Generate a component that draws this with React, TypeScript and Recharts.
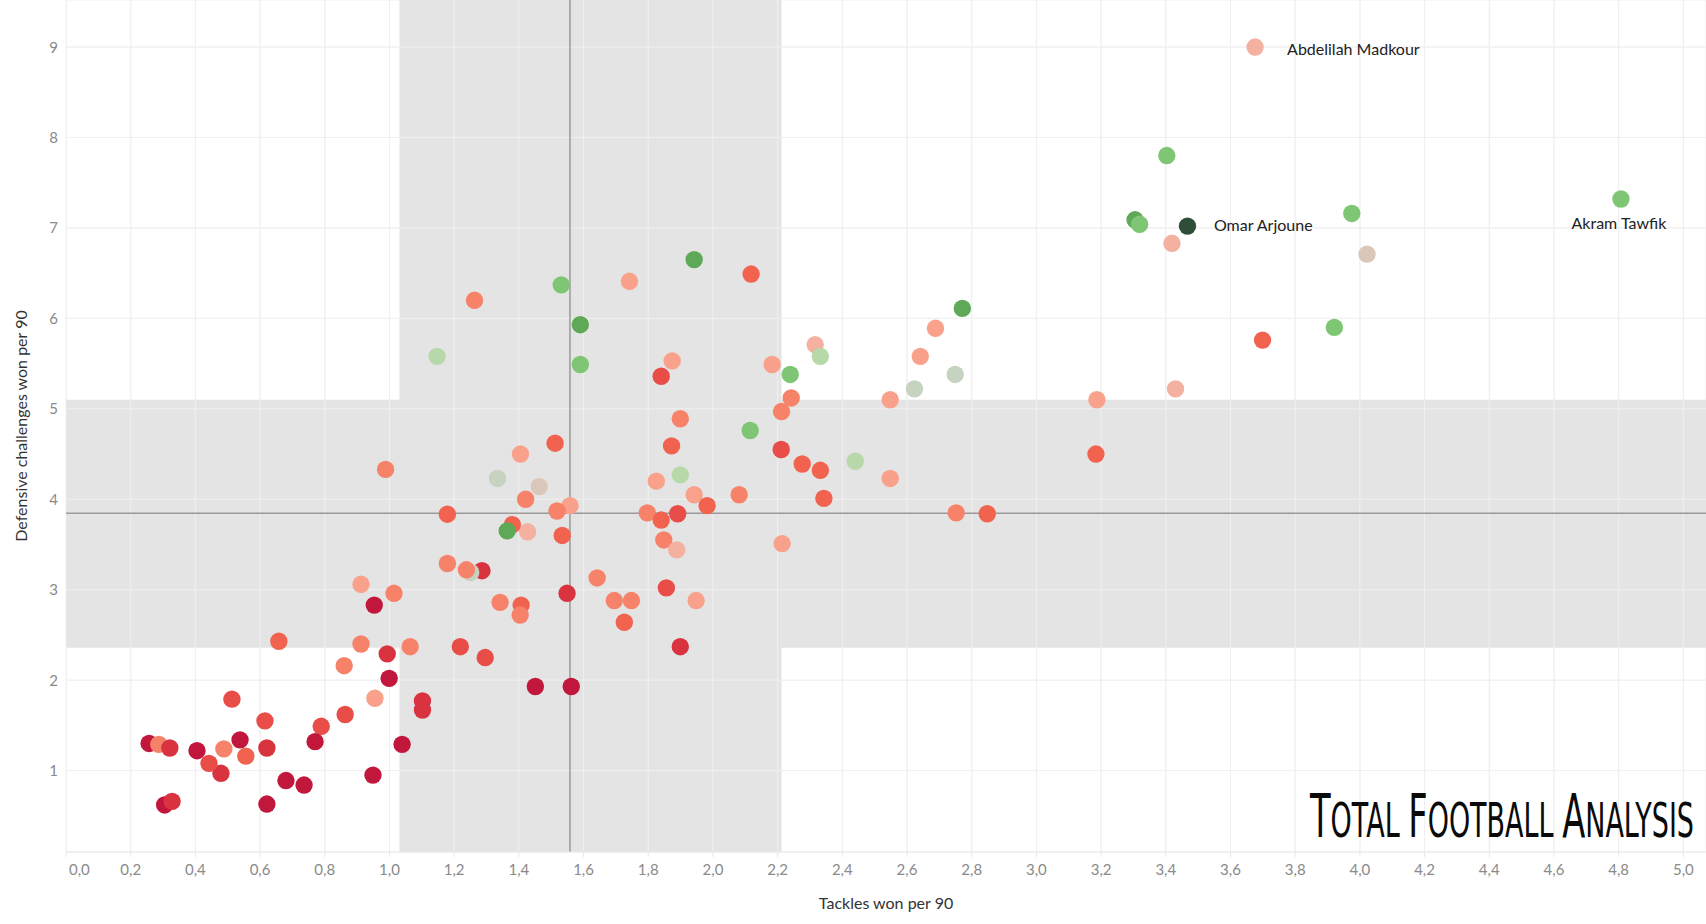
import React from "react";
import {
  ScatterChart,
  Scatter,
  XAxis,
  YAxis,
  CartesianGrid,
  ReferenceArea,
  ReferenceLine,
} from "recharts";

// ---- data ----
const tackles = [
  3.676, 3.403, 3.305, 3.319, 3.467, 3.419, 3.975, 4.022, 4.807, 3.921,
  3.699, 3.187, 3.43, 3.184, 2.848, 2.752, 2.771, 2.688, 2.641, 2.623,
  2.749, 2.548, 2.548, 2.44, 2.316, 2.332, 2.239, 2.183, 2.242, 2.212,
  2.115, 2.211, 2.276, 2.332, 2.343, 2.214, 2.118, 1.942, 1.742, 1.531,
  1.59, 1.59, 1.874, 1.84, 1.899, 1.872, 1.825, 1.899, 1.942, 1.982,
  2.081, 1.797, 1.84, 1.891, 1.848, 1.888, 1.558, 1.518, 1.534, 1.512,
  1.405, 1.421, 1.463, 1.427, 1.38, 1.364, 1.334, 1.179, 0.988, 1.147,
  1.263, 1.642, 1.549, 1.695, 1.748, 1.856, 1.948, 1.726, 1.899, 1.562,
  1.451, 1.179, 1.286, 1.251, 1.238, 1.342, 1.407, 1.404, 1.219, 1.296,
  1.064, 0.993, 0.999, 0.912, 0.86, 0.955, 0.912, 1.014, 0.953, 0.658,
  1.102, 1.102, 1.039, 0.949, 0.863, 0.789, 0.77, 0.736, 0.68, 0.621,
  0.621, 0.615, 0.556, 0.538, 0.488, 0.513, 0.479, 0.442, 0.405, 0.257,
  0.287, 0.321, 0.305, 0.328,
];

const challenges = [
  9.0, 7.8, 7.09, 7.04, 7.02, 6.83, 7.16, 6.71, 7.32, 5.9,
  5.76, 5.1, 5.22, 4.5, 3.84, 3.85, 6.11, 5.89, 5.58, 5.22,
  5.38, 5.1, 4.23, 4.42, 5.71, 5.58, 5.38, 5.49, 5.12, 4.97,
  4.76, 4.55, 4.39, 4.32, 4.01, 3.51, 6.49, 6.65, 6.41, 6.37,
  5.93, 5.49, 5.53, 5.36, 4.89, 4.59, 4.2, 4.27, 4.05, 3.93,
  4.05, 3.85, 3.77, 3.84, 3.55, 3.44, 3.93, 3.87, 3.6, 4.62,
  4.5, 4.0, 4.14, 3.64, 3.72, 3.65, 4.23, 3.835, 4.33, 5.58,
  6.2, 3.13, 2.96, 2.88, 2.88, 3.02, 2.88, 2.64, 2.37, 1.93,
  1.93, 3.29, 3.21, 3.19, 3.22, 2.86, 2.83, 2.72, 2.37, 2.25,
  2.37, 2.29, 2.02, 2.4, 2.16, 1.8, 3.06, 2.96, 2.83, 2.43,
  1.77, 1.67, 1.29, 0.95, 1.62, 1.49, 1.32, 0.84, 0.89, 0.63,
  1.25, 1.55, 1.16, 1.34, 1.24, 1.79, 0.97, 1.08, 1.22, 1.3,
  1.29, 1.25, 0.62, 0.66,
];

const tones = [
  "P", "G", "D", "G", "K", "P", "G", "B", "G", "G",
  "O", "L", "P", "O", "O", "S", "D", "L", "L", "Q",
  "Q", "L", "L", "M", "P", "M", "G", "L", "S", "S",
  "G", "T", "O", "O", "O", "L", "O", "D", "L", "G",
  "D", "G", "L", "T", "S", "O", "L", "M", "L", "O",
  "S", "S", "O", "T", "S", "P", "L", "S", "O", "O",
  "L", "S", "B", "P", "O", "D", "Q", "O", "S", "M",
  "S", "S", "R", "S", "S", "T", "L", "O", "R", "C",
  "C", "S", "R", "Q", "S", "S", "O", "S", "T", "T",
  "S", "R", "C", "S", "S", "L", "L", "S", "C", "O",
  "R", "R", "C", "C", "T", "T", "C", "C", "C", "C",
  "R", "T", "O", "C", "S", "T", "R", "T", "C", "C",
  "S", "R", "C", "R",
];

const labelledPlayers: Record<number, string> = {
  0: "Abdelilah Madkour",
  4: "Omar Arjoune",
  8: "Akram Tawfik",
};

const xTicks = [
  0, 0.2, 0.4, 0.6, 0.8, 1.0, 1.2, 1.4, 1.6, 1.8, 2.0, 2.2, 2.4, 2.6, 2.8,
  3.0, 3.2, 3.4, 3.6, 3.8, 4.0, 4.2, 4.4, 4.6, 4.8, 5.0,
];
const yTicks = [1, 2, 3, 4, 5, 6, 7, 8, 9];

// band limits and averages
const tackleBand = [1.031, 2.212];
const challengeBand = [2.357, 5.099];
const tackleAvg = 1.558;
const challengeAvg = 3.845;

// ---- styling ----
const palette: Record<string, string> = {
  C: "#c1173c",
  R: "#da3340",
  T: "#e84d47",
  O: "#f1634f",
  S: "#f7826a",
  L: "#f9a18b",
  P: "#f4b0a0",
  B: "#dac7b9",
  Q: "#c6d3c0",
  M: "#b7d9aa",
  G: "#7fc674",
  D: "#5ea957",
  K: "#2f4e3a",
};

const labelPlacement: Record<string, { dx: number; dy: number; anchor: "start" | "middle" | "end" }> = {
  "Abdelilah Madkour": { dx: 32, dy: 8, anchor: "start" },
  "Omar Arjoune": { dx: 26.5, dy: 4.5, anchor: "start" },
  "Akram Tawfik": { dx: -2, dy: 30.5, anchor: "middle" },
};

const points = tackles.map((x, i) => ({
  x,
  y: challenges[i],
  tone: tones[i],
  name: labelledPlayers[i] || "",
}));

const FONT = "Lato, 'Open Sans', sans-serif";
const GRID = "#f0f0f0";

const fmt = (v: number) => v.toFixed(1).replace(".", ",");

const PlayerDot = (props: any) => {
  const { cx, cy, payload } = props;
  if (cx == null || cy == null) return null;
  const lab = payload.name ? labelPlacement[payload.name] : null;
  return (
    <g>
      <circle cx={cx} cy={cy} r={8.7} fill={palette[payload.tone]} />
      {lab && (
        <text
          x={cx + lab.dx}
          y={cy + lab.dy}
          textAnchor={lab.anchor}
          fontFamily={FONT}
          fontSize={16}
          fill="#222"
        >
          {payload.name}
        </text>
      )}
    </g>
  );
};

const XTick = (props: any) => {
  const { x, y, payload } = props;
  const first = payload.value === 0;
  return (
    <text
      x={first ? x + 3 : x}
      y={y + 16}
      textAnchor={first ? "start" : "middle"}
      fontFamily={FONT}
      fontSize={15}
      fill="#8a8a8a"
    >
      {fmt(payload.value)}
    </text>
  );
};

const YTick = (props: any) => {
  const { x, y, payload } = props;
  return (
    <text x={x} y={y + 5.5} textAnchor="end" fontFamily={FONT} fontSize={15} fill="#8a8a8a">
      {payload.value}
    </text>
  );
};

const Logo = () => (
  <svg
    width={400}
    height={80}
    style={{ position: "absolute", left: 1300, top: 775 }}
  >
    <g transform="translate(10, 62) scale(1, 2)">
      <text
        x={0}
        y={0}
        fill="#0a0a0a"
        fontFamily="'DejaVu Sans', sans-serif"
        fontWeight={400}
        fontSize={24}
        textLength={384}
        lengthAdjust="spacingAndGlyphs"
      >
        <tspan fontSize={30}>T</tspan>OTAL <tspan fontSize={30}>F</tspan>OOTBALL{" "}
        <tspan fontSize={30}>A</tspan>NALYSIS
      </text>
    </g>
  </svg>
);

export default function App() {
  return (
    <div style={{ position: "absolute", left: 0, top: 0, width: 1706, height: 924, background: "#fff" }}>
      <ScatterChart
        width={1706}
        height={924}
        margin={{ top: 0, right: 0, bottom: 0, left: 0 }}
      >
        <CartesianGrid stroke={GRID} strokeWidth={1} />
        <ReferenceArea
          x1={tackleBand[0]}
          x2={tackleBand[1]}
          fill="#e4e4e4"
          fillOpacity={1}
          stroke="none"
          ifOverflow="hidden"
        />
        <ReferenceArea
          y1={challengeBand[0]}
          y2={challengeBand[1]}
          fill="#e4e4e4"
          fillOpacity={1}
          stroke="none"
          ifOverflow="hidden"
        />
        {xTicks.map((t) => (
          <ReferenceLine key={"gx" + t} x={t} stroke={GRID} strokeWidth={1} ifOverflow="hidden" />
        ))}
        {yTicks.map((t) => (
          <ReferenceLine key={"gy" + t} y={t} stroke={GRID} strokeWidth={1} ifOverflow="hidden" />
        ))}
        <XAxis
          type="number"
          dataKey="x"
          domain={[0, 5.07]}
          ticks={xTicks}
          allowDataOverflow
          height={72}
          tick={<XTick />}
          tickSize={5}
          tickLine={{ stroke: "#e6e6e6" }}
          axisLine={{ stroke: "#e9e9e9" }}
          interval={0}
          label={{
            content: (p: any) => {
              const vb = p.viewBox || { x: 66, y: 852, width: 1640 };
              return (
                <text
                  x={vb.x + vb.width / 2}
                  y={vb.y + 57}
                  textAnchor="middle"
                  fontFamily={FONT}
                  fontSize={16}
                  fill="#333"
                >
                  Tackles won per 90
                </text>
              );
            },
          }}
        />
        <YAxis
          type="number"
          dataKey="y"
          domain={[0.1, 9.52]}
          ticks={yTicks}
          allowDataOverflow
          width={66}
          tick={<YTick />}
          tickLine={false}
          axisLine={false}
          interval={0}
          label={{
            content: () => (
              <text
                x={0}
                y={0}
                transform="translate(27, 426) rotate(-90)"
                textAnchor="middle"
                fontFamily={FONT}
                fontSize={16}
                fill="#333"
              >
                Defensive challenges won per 90
              </text>
            ),
          }}
        />
        <ReferenceLine x={tackleAvg} stroke="#9a9a9a" strokeWidth={1.5} />
        <ReferenceLine y={challengeAvg} stroke="#9a9a9a" strokeWidth={1.5} />
        <Scatter data={points} shape={<PlayerDot />} isAnimationActive={false} />
      </ScatterChart>
      <Logo />
    </div>
  );
}
